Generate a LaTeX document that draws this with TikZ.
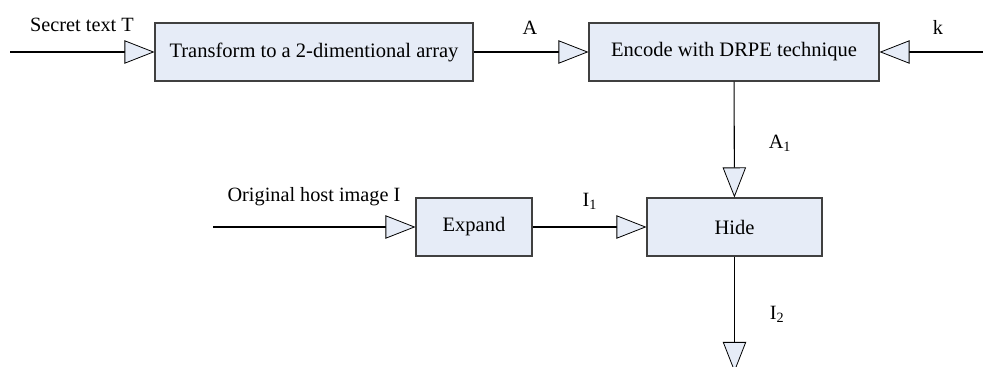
\documentclass[tikz,border=0pt]{standalone}
\usepackage{fontspec}
\setmainfont{Liberation Serif}
\usetikzlibrary{arrows.meta}
\usetikzlibrary{positioning}

\definecolor{boxblue}{RGB}{230,236,247}

\tikzset{
  blockbox/.style={draw=black!75,fill=boxblue,line width=0.8pt,minimum height=43.5pt,
    inner sep=0pt,font=\fontsize{15.4}{17}\selectfont},
  flow/.style={line width=0.8pt,-{Triangle[length=22.5pt,width=17.5pt,fill=boxblue,line width=0.6pt]}},
  sigtext/.style={font=\fontsize{15.2}{17}\selectfont,inner sep=0pt}
}

\begin{document}
\begin{tikzpicture}[x=0.75pt,y=-0.75pt]
\useasboundingbox (0,0) rectangle (983,367);
\clip (0,0) rectangle (983,367);

\node[blockbox,minimum width=238.5pt] (transform) at (314,52) {Transform to a 2-dimentional array};
\node[blockbox,minimum width=217.5pt] (encode) at (734,52) {Encode with DRPE technique};
\node[blockbox,minimum width=87pt] (expand) at (474,227) {Expand};
\node[blockbox,minimum width=131.25pt] (hide) at (734.5,227) {Hide};

\coordinate (secret) at (10,52);
\coordinate (keyin) at (984,52);
\coordinate (hostin) at (213,227);
\coordinate (out) at (734.5,372);

\draw[flow] (secret) -- (transform);
\draw[flow] (transform) -- (encode);
\draw[flow] (keyin) -- (encode);
\draw[flow] (encode) -- (hide);
\draw[flow] (hostin) -- (expand);
\draw[flow] (expand) -- (hide);
\draw[flow] (hide) -- (out);

\node[sigtext] (secretlbl) at (82,25) {Secret text T};
\node[sigtext] (albl) at (530,28) {A};
\node[sigtext] (klbl) at (938,27) {k};
\node[sigtext] (a1lbl) at (780,143) {A\textsubscript{1}};
\node[sigtext] (hostlbl) at (314,197) {Original host image I};
\node[sigtext] (i1lbl) at (590,201) {I\textsubscript{1}};
\node[sigtext] (i2lbl) at (777,314) {I\textsubscript{2}};

\end{tikzpicture}
\end{document}
